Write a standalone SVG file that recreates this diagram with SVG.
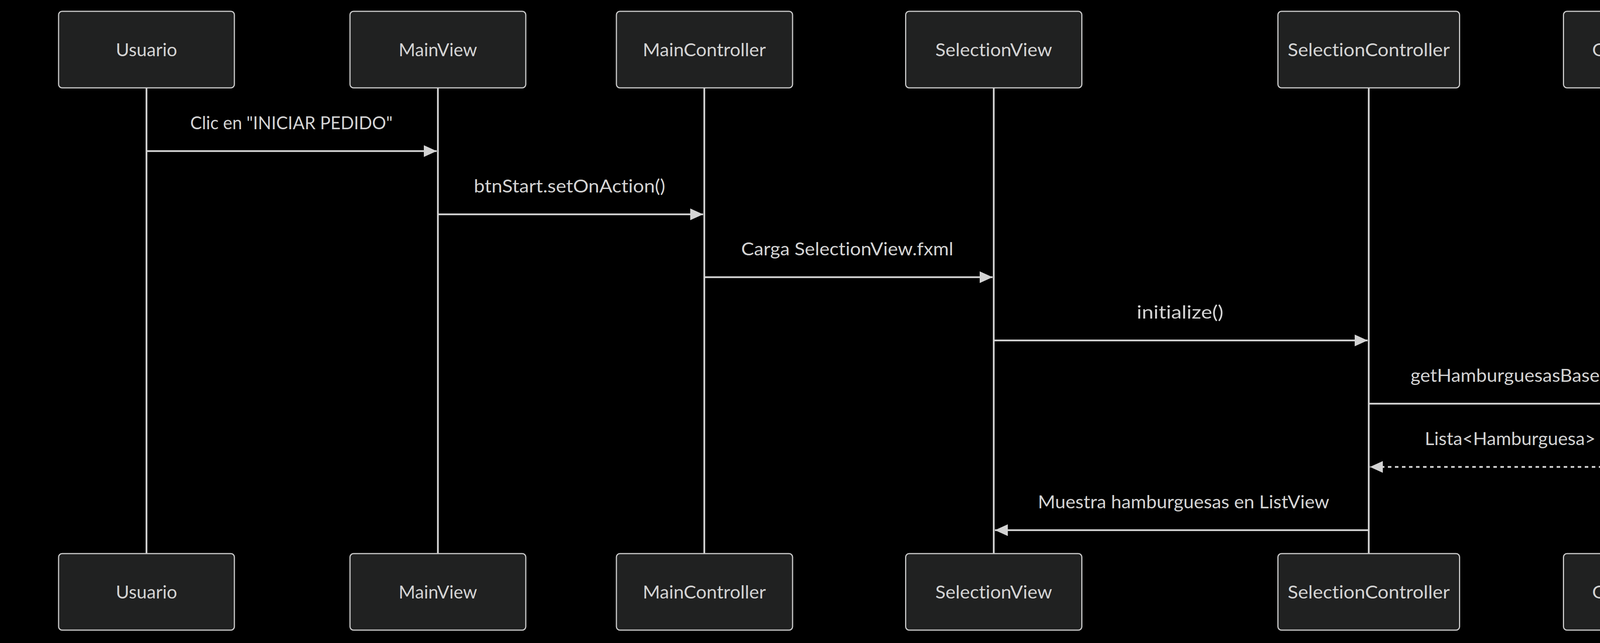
<svg xmlns="http://www.w3.org/2000/svg" width="4602" height="1647" viewBox="0 0 4602 1647">
<style>
.bg{fill:#000000}
.actor{fill:#202121;stroke:#c8c8c8;stroke-width:3}
.atext,.mtext{font-family:"Trebuchet MS",Lato,"Open Sans",sans-serif;font-size:46px;fill:#d3d3d3;text-anchor:middle;font-variant-ligatures:none}
.lifeline{stroke:#d3d3d3;stroke-width:4.5;fill:none}
.msg{stroke:#d3d3d3;stroke-width:4.5;fill:none;marker-end:url(#arrow)}
.dashed{stroke-dasharray:9,9}
</style>
<defs>
<marker id="arrow" viewBox="0 0 11 10" refX="11" refY="5" markerUnits="userSpaceOnUse" markerWidth="33" markerHeight="30" orient="auto">
<path d="M0,0 L11,5 L0,10 z" fill="#d3d3d3" stroke="none"/>
</marker>
</defs>
<rect class="bg" x="0" y="0" width="4602" height="1647"/>
<g id="lifelines">
<line class="lifeline" x1="375" y1="225" x2="375" y2="1418"/>
<line class="lifeline" x1="1121" y1="225" x2="1121" y2="1418"/>
<line class="lifeline" x1="1803" y1="225" x2="1803" y2="1418"/>
<line class="lifeline" x1="2544" y1="225" x2="2544" y2="1418"/>
<line class="lifeline" x1="3504" y1="225" x2="3504" y2="1418"/>
<line class="lifeline" x1="4228" y1="225" x2="4228" y2="1418"/>
</g>
<g id="Usuario">
<rect class="actor" x="150" y="29" width="450" height="196" rx="9" ry="9"/>
<text class="atext" x="375" y="144" textLength="157" lengthAdjust="spacingAndGlyphs">Usuario</text>
<rect class="actor" x="150" y="1418" width="450" height="196" rx="9" ry="9"/>
<text class="atext" x="375" y="1533" textLength="157" lengthAdjust="spacingAndGlyphs">Usuario</text>
</g>
<g id="MainView">
<rect class="actor" x="896" y="29" width="450" height="196" rx="9" ry="9"/>
<text class="atext" x="1121" y="144" textLength="201" lengthAdjust="spacingAndGlyphs">MainView</text>
<rect class="actor" x="896" y="1418" width="450" height="196" rx="9" ry="9"/>
<text class="atext" x="1121" y="1533" textLength="201" lengthAdjust="spacingAndGlyphs">MainView</text>
</g>
<g id="MainController">
<rect class="actor" x="1578" y="29" width="451" height="196" rx="9" ry="9"/>
<text class="atext" x="1803" y="144" textLength="315" lengthAdjust="spacingAndGlyphs">MainController</text>
<rect class="actor" x="1578" y="1418" width="451" height="196" rx="9" ry="9"/>
<text class="atext" x="1803" y="1533" textLength="315" lengthAdjust="spacingAndGlyphs">MainController</text>
</g>
<g id="SelectionView">
<rect class="actor" x="2318.5" y="29" width="451" height="196" rx="9" ry="9"/>
<text class="atext" x="2544" y="144" textLength="299" lengthAdjust="spacingAndGlyphs">SelectionView</text>
<rect class="actor" x="2318.5" y="1418" width="451" height="196" rx="9" ry="9"/>
<text class="atext" x="2544" y="1533" textLength="299" lengthAdjust="spacingAndGlyphs">SelectionView</text>
</g>
<g id="SelectionController">
<rect class="actor" x="3271.5" y="29" width="465" height="196" rx="9" ry="9"/>
<text class="atext" x="3504" y="144" textLength="415" lengthAdjust="spacingAndGlyphs">SelectionController</text>
<rect class="actor" x="3271.5" y="1418" width="465" height="196" rx="9" ry="9"/>
<text class="atext" x="3504" y="1533" textLength="415" lengthAdjust="spacingAndGlyphs">SelectionController</text>
</g>
<g id="GestorPedidos">
<rect class="actor" x="4002.5" y="29" width="451" height="196" rx="9" ry="9"/>
<text class="atext" x="4228" y="144" textLength="304" lengthAdjust="spacingAndGlyphs">GestorPedidos</text>
<rect class="actor" x="4002.5" y="1418" width="451" height="196" rx="9" ry="9"/>
<text class="atext" x="4228" y="1533" textLength="304" lengthAdjust="spacingAndGlyphs">GestorPedidos</text>
</g>
<g id="connectors">
<line class="msg" x1="375" y1="387" x2="1118" y2="387"/>
<text class="mtext" x="746" y="331" textLength="518" lengthAdjust="spacingAndGlyphs">Clic en "INICIAR PEDIDO"</text>
<line class="msg" x1="1121" y1="549" x2="1800" y2="549"/>
<text class="mtext" x="1458" y="493" textLength="490" lengthAdjust="spacingAndGlyphs">btnStart.setOnAction()</text>
<line class="msg" x1="1803" y1="710" x2="2541" y2="710"/>
<text class="mtext" x="2169" y="654" textLength="543" lengthAdjust="spacingAndGlyphs">Carga SelectionView.fxml</text>
<line class="msg" x1="2544" y1="872" x2="3501" y2="872"/>
<text class="mtext" x="3021" y="816" textLength="222" lengthAdjust="spacingAndGlyphs">initialize()</text>
<line class="msg" x1="3504" y1="1034" x2="4225" y2="1034"/>
<text class="mtext" x="3866" y="978" textLength="510" lengthAdjust="spacingAndGlyphs">getHamburguesasBase()</text>
<line class="msg dashed" x1="4228" y1="1196" x2="3507" y2="1196"/>
<text class="mtext" x="3866" y="1140" textLength="437" lengthAdjust="spacingAndGlyphs">Lista&lt;Hamburguesa&gt;</text>
<line class="msg" x1="3504" y1="1358" x2="2547" y2="1358"/>
<text class="mtext" x="3030" y="1302" textLength="746" lengthAdjust="spacingAndGlyphs">Muestra hamburguesas en ListView</text>
</g>
</svg>
